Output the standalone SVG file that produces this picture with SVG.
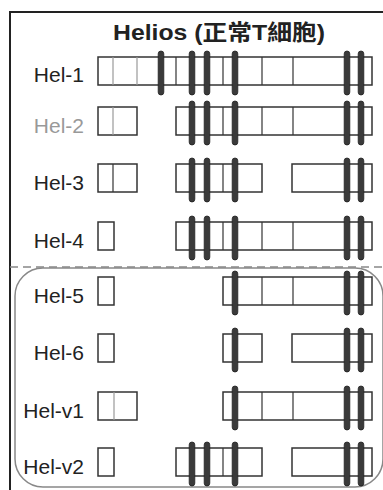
<svg xmlns="http://www.w3.org/2000/svg" width="383" height="490" viewBox="0 0 383 490">
<style>
.lbl{font-family:"Liberation Sans",Arial,sans-serif;font-size:21px;fill:#222;text-anchor:end}
.box{fill:#fff;stroke:#333;stroke-width:1.5}
.div{stroke:#333;stroke-width:1.2}
.gdiv{stroke:#999;stroke-width:1.2}
.bar{fill:#3a3a3a;stroke:#222;stroke-width:0.8}
</style>
<defs>
<rect id="b" class="bar" x="-2.8" y="-6" width="5.6" height="44" rx="2.8"/>
</defs>
<rect x="10" y="12" width="400" height="500" fill="none" stroke="#222" stroke-width="2"/>
<text x="219" y="40" font-family="'Liberation Sans','Noto Sans CJK TC',Arial,sans-serif" font-size="22" font-weight="bold" fill="#222" text-anchor="middle" textLength="212" lengthAdjust="spacingAndGlyphs">Helios (正常T細胞)</text>
<g id="deco">
<line x1="10" y1="267" x2="383" y2="267" stroke="#888" stroke-width="1.5" stroke-dasharray="8 5"/>
<rect x="15" y="268" width="368" height="219" rx="28" fill="none" stroke="#888" stroke-width="1.5"/>
</g>
<g id="hel1" transform="translate(0,57)">
<text class="lbl" x="84" y="25">Hel-1</text>
<rect class="box" x="98" y="0" width="274" height="28"/>
<line class="gdiv" x1="113" y1="0" x2="113" y2="28"/><line class="gdiv" x1="137" y1="0" x2="137" y2="28"/>
<line class="div" x1="176" y1="0" x2="176" y2="28"/><line class="div" x1="223" y1="0" x2="223" y2="28"/><line class="div" x1="262" y1="0" x2="262" y2="28"/><line class="div" x1="293" y1="0" x2="293" y2="28"/>
<use href="#b" x="161"/><use href="#b" x="192"/><use href="#b" x="207"/><use href="#b" x="235"/><use href="#b" x="347"/><use href="#b" x="361"/>
</g>
<g id="hel2" transform="translate(0,107)">
<text class="lbl" x="84" y="26" style="fill:#999">Hel-2</text>
<rect class="box" x="98" y="0" width="39" height="28"/>
<line class="gdiv" x1="113" y1="0" x2="113" y2="28"/>
<rect class="box" x="176" y="0" width="196" height="28"/>
<line class="div" x1="223" y1="0" x2="223" y2="28"/><line class="div" x1="262" y1="0" x2="262" y2="28"/><line class="div" x1="293" y1="0" x2="293" y2="28"/>
<use href="#b" x="192"/><use href="#b" x="207"/><use href="#b" x="235"/><use href="#b" x="347"/><use href="#b" x="361"/>
</g>
<g id="hel3" transform="translate(0,164)">
<text class="lbl" x="84" y="26">Hel-3</text>
<rect class="box" x="98" y="0" width="39" height="28"/>
<line class="div" x1="113" y1="0" x2="113" y2="28"/>
<rect class="box" x="176" y="0" width="86" height="28"/>
<line class="div" x1="223" y1="0" x2="223" y2="28"/>
<rect class="box" x="292" y="0" width="80" height="28"/>
<use href="#b" x="192"/><use href="#b" x="207"/><use href="#b" x="235"/><use href="#b" x="347"/><use href="#b" x="361"/>
</g>
<g id="hel4" transform="translate(0,222)">
<text class="lbl" x="84" y="26">Hel-4</text>
<rect class="box" x="98" y="0" width="16" height="28"/>
<rect class="box" x="176" y="0" width="196" height="28"/>
<line class="div" x1="223" y1="0" x2="223" y2="28"/><line class="div" x1="262" y1="0" x2="262" y2="28"/><line class="div" x1="293" y1="0" x2="293" y2="28"/>
<use href="#b" x="192"/><use href="#b" x="207"/><use href="#b" x="235"/><use href="#b" x="347"/><use href="#b" x="361"/>
</g>
<g id="hel5" transform="translate(0,277)">
<text class="lbl" x="84" y="26">Hel-5</text>
<rect class="box" x="98" y="0" width="16" height="28"/>
<rect class="box" x="223" y="0" width="149" height="28"/>
<line class="div" x1="262" y1="0" x2="262" y2="28"/><line class="div" x1="293" y1="0" x2="293" y2="28"/>
<use href="#b" x="235"/><use href="#b" x="347"/><use href="#b" x="361"/>
</g>
<g id="hel6" transform="translate(0,334)">
<text class="lbl" x="84" y="26">Hel-6</text>
<rect class="box" x="98" y="0" width="16" height="28"/>
<rect class="box" x="223" y="0" width="39" height="28"/>
<rect class="box" x="292" y="0" width="80" height="28"/>
<use href="#b" x="235"/><use href="#b" x="347"/><use href="#b" x="361"/>
</g>
<g id="helv1" transform="translate(0,392)">
<text class="lbl" x="84" y="26">Hel-v1</text>
<rect class="box" x="98" y="0" width="39" height="28"/>
<line class="gdiv" x1="114" y1="0" x2="114" y2="28"/>
<rect class="box" x="223" y="0" width="149" height="28"/>
<line class="div" x1="262" y1="0" x2="262" y2="28"/><line class="div" x1="293" y1="0" x2="293" y2="28"/>
<use href="#b" x="235"/><use href="#b" x="347"/><use href="#b" x="361"/>
</g>
<g id="helv2" transform="translate(0,448)">
<text class="lbl" x="84" y="26">Hel-v2</text>
<rect class="box" x="98" y="0" width="16" height="28"/>
<rect class="box" x="176" y="0" width="86" height="28"/>
<line class="div" x1="223" y1="0" x2="223" y2="28"/>
<rect class="box" x="292" y="0" width="80" height="28"/>
<use href="#b" x="192"/><use href="#b" x="207"/><use href="#b" x="235"/><use href="#b" x="347"/><use href="#b" x="361"/>
</g>
</svg>
